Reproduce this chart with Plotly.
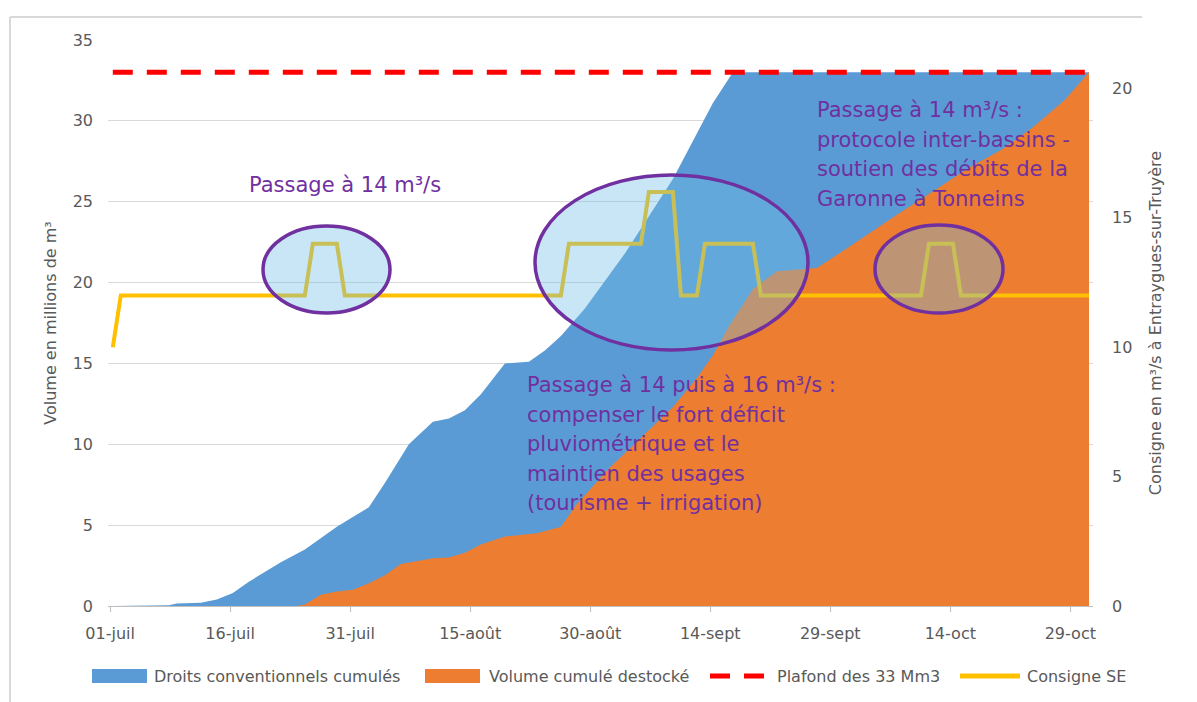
import pandas as pd
import plotly.graph_objects as go

# ---------------- data ----------------
start = pd.Timestamp("2022-07-01")

droits_days = [0, 7, 8, 11, 13, 15, 17, 19, 21, 24, 26, 28, 30, 32, 34, 37, 40, 42, 44, 46, 49, 52, 54, 56, 59, 64, 70, 73, 75, 77.5, 122]
droits_vals = [0, 0.05, 0.15, 0.2, 0.4, 0.8, 1.5, 2.1, 2.7, 3.5, 4.2, 4.9, 5.5, 6.1, 7.6, 10.0, 11.4, 11.6, 12.1, 13.1, 15.0, 15.1, 15.8, 16.7, 18.4, 21.8, 26.4, 29.2, 31.1, 33.0, 33.0]

destock_days = [0, 23, 24, 26, 28, 30, 32, 34, 36, 40, 42, 44, 46, 49, 53, 56, 58, 62, 66, 70, 73, 75, 77, 80, 83, 88, 92, 98, 103, 107, 111, 115, 119, 122]
destock_vals = [0, 0, 0.1, 0.7, 0.9, 1.0, 1.4, 1.9, 2.6, 2.95, 3.0, 3.3, 3.8, 4.3, 4.5, 4.9, 6.3, 8.5, 10.4, 12.3, 14.1, 15.5, 17.3, 19.6, 20.7, 20.9, 22.2, 24.2, 25.8, 27.1, 28.2, 29.6, 31.3, 33.0]

plafond_days = [0, 122]
plafond_vals = [33, 33]

consigne_days = [0, 1, 24, 25, 28, 29, 56, 57, 66, 67, 70, 71, 73, 74, 80, 81, 101, 102, 105, 106, 122]
consigne_vals = [10, 12, 12, 14, 14, 12, 12, 14, 14, 16, 16, 12, 12, 14, 14, 12, 12, 14, 14, 12, 12]

tick_days = [0, 15, 30, 45, 60, 75, 90, 105, 120]
tick_labels = ["01-juil", "16-juil", "31-juil", "15-août", "30-août", "14-sept", "29-sept", "14-oct", "29-oct"]

series_names = ["Droits conventionnels cumulés", "Volume cumulé destocké", "Plafond des 33 Mm3", "Consigne SE"]
series_colors = ["#5B9BD5", "#ED7D31", "#FF0000", "#FFC000"]


def to_dates(days):
    return [start + pd.Timedelta(days=d) for d in days]


# ---------------- layout helpers ----------------
OFF = 8  # page body margin
W, H = 1197 - OFF, 702 - OFF
L, R, T, B = 108, 1093, 40, 606  # plot area in page pixels


def px(x):
    return (x - L) / (R - L)


def py(y):
    return (B - y) / (B - T)


FONT = "DejaVu Sans"
GREY = "#595959"
PURPLE = "#7030A0"

fig = go.Figure()

fig.add_trace(go.Scatter(
    x=to_dates(droits_days), y=droits_vals, name=series_names[0],
    mode="lines", line=dict(width=0, color=series_colors[0]), fill="tozeroy",
    fillcolor=series_colors[0]))
fig.add_trace(go.Scatter(
    x=to_dates(destock_days), y=destock_vals, name=series_names[1],
    mode="lines", line=dict(width=0, color=series_colors[1]), fill="tozeroy",
    fillcolor=series_colors[1]))
fig.add_trace(go.Scatter(
    x=to_dates(plafond_days), y=plafond_vals, name=series_names[2],
    mode="lines", line=dict(width=5, color=series_colors[2], dash="20px,14px")))
fig.add_trace(go.Scatter(
    x=to_dates(consigne_days), y=consigne_vals, name=series_names[3],
    mode="lines", line=dict(width=4, color=series_colors[3]), yaxis="y2"))

x0 = start - pd.Timedelta(hours=0.6 * 24)
x1 = start + pd.Timedelta(hours=122.5 * 24)
tickvals = [start + pd.Timedelta(days=d) - pd.Timedelta(hours=8) for d in tick_days]

fig.update_layout(
    width=W, height=H,
    margin=dict(l=L - OFF, r=1197 - R, t=T - OFF, b=702 - B),
    paper_bgcolor="white", plot_bgcolor="white",
    font=dict(family=FONT, size=16, color=GREY),
    showlegend=False,
    xaxis=dict(type="date", range=[x0, x1], tickvals=tickvals, ticktext=tick_labels,
               showgrid=False, showline=True, linecolor="#BFBFBF", linewidth=1,
               ticks="outside", ticklen=5, tickcolor="#BFBFBF", ticklabelstandoff=8,
               tickfont=dict(family=FONT, size=16, color=GREY), zeroline=False),
    yaxis=dict(range=[0, 35], dtick=5, showgrid=True, gridcolor="#D9D9D9", gridwidth=1,
               zeroline=False, showline=False, ticks="", ticklabelstandoff=14,
               tickfont=dict(family=FONT, size=16, color=GREY),
               title=dict(text="Volume en millions de m³", font=dict(family=FONT, size=16, color=GREY), standoff=12)),
    yaxis2=dict(range=[0, 35 * 20 / 32], overlaying="y", side="right", tickvals=[0, 5, 10, 15, 20],
                showgrid=False, zeroline=False, showline=False, ticks="", ticklabelstandoff=18,
                tickfont=dict(family=FONT, size=16, color=GREY),
                title=dict(text="Consigne en m³/s à Entraygues-sur-Truyère", font=dict(family=FONT, size=16, color=GREY), standoff=18)),
)

# ellipses
ell_fill = "rgba(110,190,230,0.38)"
for (a, b, c, d) in [(263, 226, 390, 313), (535, 175, 808, 350), (875, 225, 1003, 313)]:
    fig.add_shape(type="circle", xref="paper", yref="paper",
                  x0=px(a), x1=px(c), y0=py(d), y1=py(b),
                  line=dict(color=PURPLE, width=3.5), fillcolor=ell_fill, layer="above")


# annotations
def note(text, x, y, size=21, color=PURPLE):
    fig.add_annotation(text=text, xref="paper", yref="paper", x=px(x), y=py(y),
                       xanchor="left", yanchor="middle", showarrow=False,
                       font=dict(family=FONT, size=size, color=color))


note("Passage à 14 m³/s", 247, 185)
for i, t in enumerate(["Passage à 14 puis à 16 m³/s :", "compenser le fort déficit",
                       "pluviométrique et le", "maintien des usages",
                       "(tourisme + irrigation)"]):
    note(t, 525, 385 + i * 29.5)
for i, t in enumerate(["Passage à 14 m³/s :", "protocole inter-bassins -",
                       "soutien des débits de la", "Garonne à Tonneins"]):
    note(t, 815, 110 + i * 29.5)

# legend (drawn in the bottom band)
LY = 676
fig.add_shape(type="rect", xref="paper", yref="paper", x0=px(92), x1=px(147), y0=py(683), y1=py(669),
              fillcolor=series_colors[0], line=dict(width=0))
fig.add_shape(type="rect", xref="paper", yref="paper", x0=px(425), x1=px(480), y0=py(683), y1=py(669),
              fillcolor=series_colors[1], line=dict(width=0))
fig.add_shape(type="line", xref="paper", yref="paper", x0=px(710), x1=px(764), y0=py(LY), y1=py(LY),
              line=dict(color=series_colors[2], width=5, dash="20px,14px"))
fig.add_shape(type="line", xref="paper", yref="paper", x0=px(960), x1=px(1020), y0=py(LY), y1=py(LY),
              line=dict(color=series_colors[3], width=5))
for name, x in zip(series_names, [152, 487, 775, 1025]):
    note(name, x, LY, size=16, color=GREY)

# frame
fig.add_shape(type="line", xref="paper", yref="paper", x0=px(10), x1=px(10), y0=py(17), y1=py(710),
              line=dict(color="#D9D9D9", width=2), layer="below")
fig.add_shape(type="line", xref="paper", yref="paper", x0=px(10), x1=px(1142), y0=py(17), y1=py(17),
              line=dict(color="#D9D9D9", width=2), layer="below")

fig.write_html("out.html")
